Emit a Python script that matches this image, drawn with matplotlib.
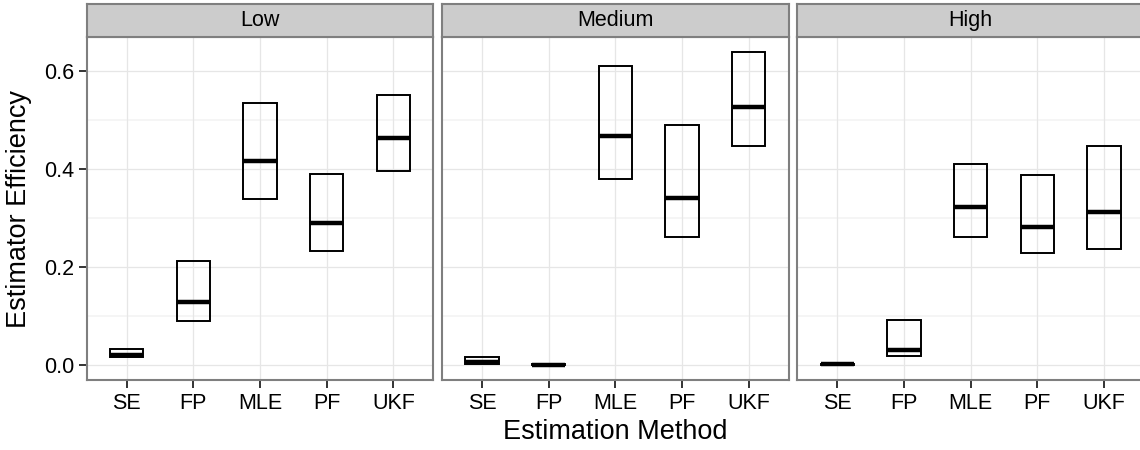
import matplotlib.pyplot as plt
import numpy as np

plt.rcParams['font.family'] = ['Liberation Sans', 'DejaVu Sans']

# crossbar summaries per noise level: lower / middle / upper
methods = ['SE', 'FP', 'MLE', 'PF', 'UKF']
levels = ['Low', 'Medium', 'High']

low_lower = [0.017, 0.090, 0.338, 0.232, 0.396]
low_middle = [0.021, 0.128, 0.416, 0.291, 0.463]
low_upper = [0.034, 0.213, 0.534, 0.390, 0.550]

med_lower = [0.003, 0.000, 0.380, 0.262, 0.446]
med_middle = [0.006, 0.001, 0.467, 0.341, 0.527]
med_upper = [0.017, 0.002, 0.610, 0.490, 0.639]

high_lower = [0.001, 0.019, 0.261, 0.228, 0.237]
high_middle = [0.002, 0.031, 0.322, 0.282, 0.313]
high_upper = [0.003, 0.092, 0.411, 0.387, 0.446]

panels = {
    'Low': (low_lower, low_middle, low_upper),
    'Medium': (med_lower, med_middle, med_upper),
    'High': (high_lower, high_middle, high_upper),
}

W, H = 1140, 450
fig = plt.figure(figsize=(W / 100, H / 100), dpi=100)

# panel geometry in pixels (left edge, top/bottom of panel, strip)
lefts = [86.7, 442.0, 797.3]
pw = 346.7
ptop, pbot = 37.3, 380.3
stop, sbot = 4.0, 37.3

border = '#7f7f7f'
x = np.arange(1, len(methods) + 1)

for i, lvl in enumerate(levels):
    lower, middle, upper = panels[lvl]
    lower = np.array(lower)
    middle = np.array(middle)
    upper = np.array(upper)

    ax = fig.add_axes([lefts[i] / W, 1 - pbot / H, pw / W, (pbot - ptop) / H])
    ax.set_xlim(0.4, 5.6)
    ax.set_ylim(-0.0306, 0.6686)

    # grid lines, ggplot theme_bw style
    for yv in [0.1, 0.3, 0.5]:
        ax.axhline(yv, color='#f5f5f5', lw=1.4, zorder=0)
    for yv in [0.0, 0.2, 0.4, 0.6]:
        ax.axhline(yv, color='#e6e6e6', lw=0.9, zorder=0)
    for xv in x:
        ax.axvline(xv, color='#e6e6e6', lw=0.9, zorder=0)

    # boxes and middle lines
    ax.bar(x, upper - lower, bottom=lower, width=0.5, fill=False,
           edgecolor='black', linewidth=1.4, zorder=2)
    ax.hlines(middle, x - 0.25, x + 0.25, color='black', lw=3.2, zorder=3)

    ax.set_xticks(x)
    ax.set_xticklabels(methods, fontsize=15.5)
    ax.set_yticks([0.0, 0.2, 0.4, 0.6])
    if i == 0:
        ax.set_yticklabels(['0.0', '0.2', '0.4', '0.6'], fontsize=15.5)
    else:
        ax.tick_params(axis='y', left=False, labelleft=False)
    ax.tick_params(length=6, width=1.4, color='#333333', pad=3)

    for sp in ax.spines.values():
        sp.set_color(border)
        sp.set_linewidth(1.5)

    # facet strip
    sax = fig.add_axes([lefts[i] / W, 1 - sbot / H, pw / W, (sbot - stop) / H])
    sax.set_facecolor('#cccccc')
    sax.set_xticks([])
    sax.set_yticks([])
    for sp in sax.spines.values():
        sp.set_color(border)
        sp.set_linewidth(1.5)
    sax.text(0.5, 0.5, lvl, ha='center', va='center', fontsize=15.5,
             transform=sax.transAxes)

fig.text(615 / W, 1 - 431.7 / H, 'Estimation Method', ha='center', va='center',
         fontsize=19.5)
fig.text(19 / W, 1 - 208.8 / H, 'Estimator Efficiency', ha='center', va='center',
         rotation=90, fontsize=19.5)

fig.savefig('out.png', dpi=100)
